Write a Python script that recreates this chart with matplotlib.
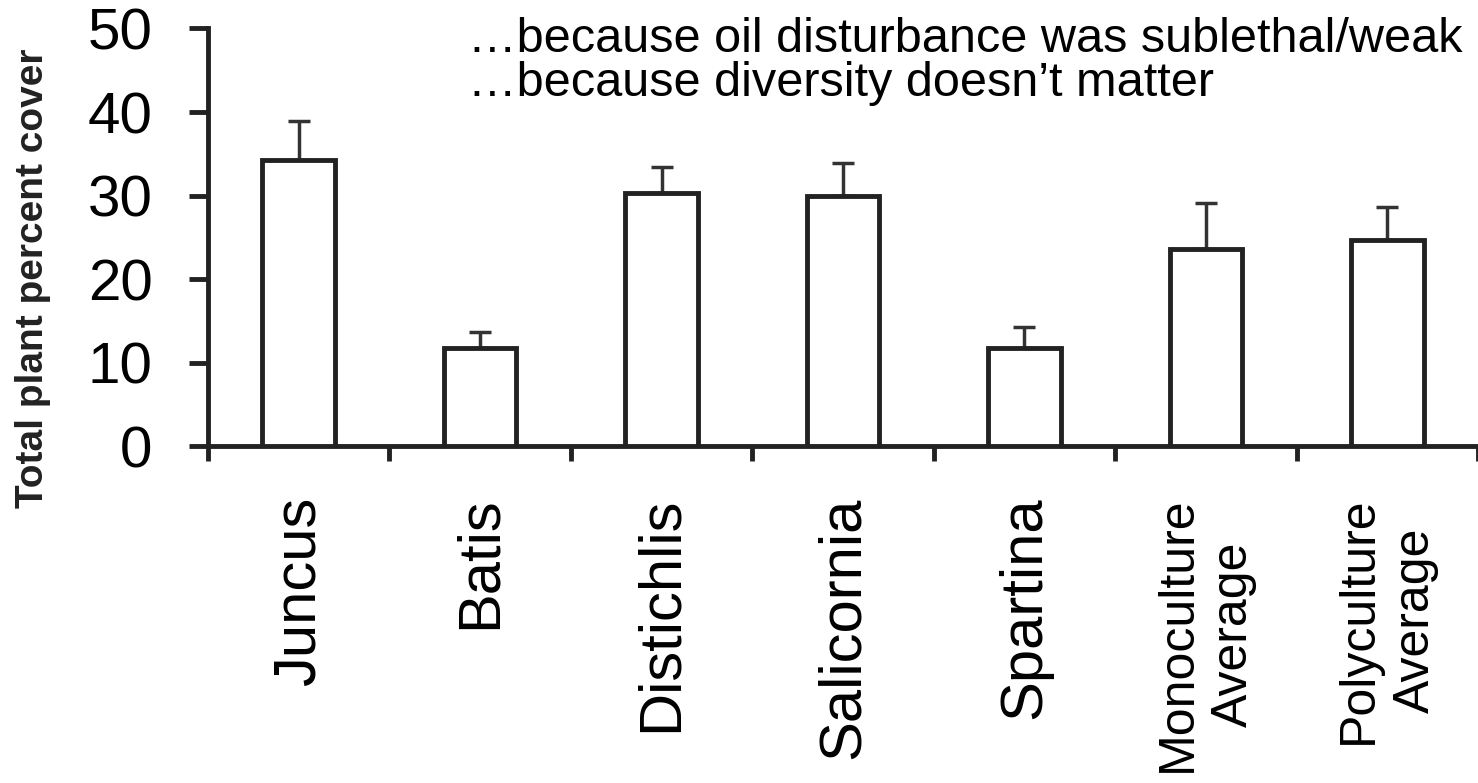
import numpy as np
import matplotlib
matplotlib.use("Agg")
import matplotlib.pyplot as plt

# plant cover by treatment (mean and upper standard error)
species = ["Juncus", "Batis", "Distichlis", "Salicornia", "Spartina",
           "Monoculture\nAverage", "Polyculture\nAverage"]
cover = [34.3, 11.8, 30.3, 30.0, 11.8, 23.6, 24.7]
cover_err = [4.6, 1.9, 3.1, 3.9, 2.5, 5.5, 3.9]
y_ticks = [0, 10, 20, 30, 40, 50]

notes = ["\u2026because oil disturbance was sublethal/weak",
         "\u2026because diversity doesn\u2019t matter"]

plt.rcParams['font.family'] = ['Liberation Sans', 'DejaVu Sans']

line_col = '#222222'
lw = 3.5

fig = plt.figure(figsize=(14.78, 7.83), dpi=100)
ax = fig.add_axes([208 / 1478, 1 - 446.5 / 783, 1 - 208 / 1478, (446.5 - 28.5) / 783])

x = np.arange(len(species))
ax.bar(x, cover, width=0.4, facecolor='white', edgecolor=line_col, linewidth=lw, zorder=3)
ax.errorbar(x, cover, yerr=[np.zeros(len(cover)), cover_err], fmt='none',
            ecolor='#333333', elinewidth=2.5, capsize=8, capthick=2.5, zorder=2)

ax.set_xlim(-0.5, len(species) - 0.5)
ax.set_ylim(0, 50)

for side in ['top', 'right']:
    ax.spines[side].set_visible(False)
for side in ['left', 'bottom']:
    ax.spines[side].set_linewidth(lw)
    ax.spines[side].set_color(line_col)

ax.set_yticks(y_ticks)
ax.set_yticklabels([str(v) for v in y_ticks], fontsize=42)
ax.tick_params(axis='y', direction='out', length=14, width=lw, color=line_col, pad=26)

# category separators as major ticks, names on minor ticks at bar centers
ax.set_xticks(np.arange(-0.5, len(species), 1.0))
ax.set_xticklabels([])
ax.set_xticks(x, minor=True)
ax.set_xticklabels(species, minor=True, rotation=90, fontsize=43,
                   ha='center', va='top', multialignment='center', linespacing=1.3)
for lbl in ax.get_xticklabels(minor=True):
    if '\n' in lbl.get_text():
        lbl.set_fontsize(36)
ax.tick_params(axis='x', which='major', direction='out', length=11, width=lw, color=line_col)
ax.tick_params(axis='x', which='minor', length=0, pad=36)

fig.text(33 / 1478, 1 - 278 / 783, "Total plant percent cover", rotation=90,
         fontsize=28, fontweight='bold', color='#222222', ha='center', va='center')

fig.text(468 / 1478, 1 - 52 / 783, notes[0], fontsize=35, ha='left', va='baseline')
fig.text(468 / 1478, 1 - 96 / 783, notes[1], fontsize=35, ha='left', va='baseline')

fig.savefig("out.png", dpi=100, facecolor='white')
